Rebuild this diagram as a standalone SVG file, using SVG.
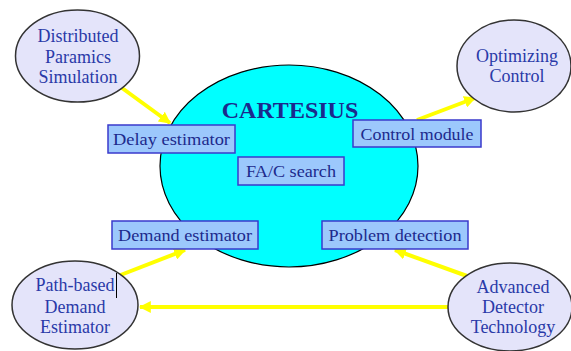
<svg xmlns="http://www.w3.org/2000/svg" width="571" height="351" viewBox="0 0 571 351">
<style>
.ext{fill:#e4e4fa;stroke:#333;stroke-width:1.5}
.box{fill:#9cc8fc;stroke:#3a3acc;stroke-width:1.5}
.t{font-size:17px;fill:#1c2a8c;text-anchor:middle}
.et{font-size:18px;fill:#2a3aa8;text-anchor:middle}
.arr{stroke:#ffff00;stroke-width:4;fill:none;marker-end:url(#ah)}
.big{font-size:24px;font-weight:bold;fill:#1c2a8c;text-anchor:middle}
</style>
<defs>
<marker id="ah" viewBox="0 0 10 10" refX="9" refY="5" markerWidth="3" markerHeight="3" orient="auto" markerUnits="strokeWidth">
<path d="M0,0 L10,5 L0,10 z" fill="#ffff00"/>
</marker>
</defs>
<rect width="571" height="351" fill="#fff"/>
<g font-family="Liberation Serif, serif">
<g id="cartesius">
<ellipse cx="289" cy="166" rx="129" ry="101" fill="#00ffff" stroke="#000" stroke-width="1.2"/>
<text class="big" x="290" y="118">CARTESIUS</text>
</g>
<g id="connectors">
<line class="arr" x1="122" y1="88" x2="170" y2="123"/>
<line class="arr" x1="417" y1="120" x2="475" y2="98"/>
<line class="arr" x1="118" y1="276" x2="185" y2="250"/>
<line class="arr" x1="467" y1="276" x2="395" y2="250"/>
<line class="arr" x1="448" y1="307" x2="140" y2="307"/>
</g>
<g id="delay">
<rect class="box" x="108" y="125" width="127" height="28"/>
<text class="t" x="171.5" y="145" textLength="117" lengthAdjust="spacingAndGlyphs">Delay estimator</text>
</g>
<g id="control">
<rect class="box" x="353" y="120" width="128" height="27"/>
<text class="t" x="417" y="139.5" textLength="113" lengthAdjust="spacingAndGlyphs">Control module</text>
</g>
<g id="fac">
<rect class="box" x="238" y="157" width="106" height="28"/>
<text class="t" x="291" y="177" textLength="90" lengthAdjust="spacingAndGlyphs">FA/C search</text>
</g>
<g id="demand">
<rect class="box" x="112" y="221" width="146" height="28"/>
<text class="t" x="185" y="241" textLength="134" lengthAdjust="spacingAndGlyphs">Demand estimator</text>
</g>
<g id="problem">
<rect class="box" x="322" y="221" width="146" height="28"/>
<text class="t" x="395" y="241" textLength="133" lengthAdjust="spacingAndGlyphs">Problem detection</text>
</g>
<g id="distributed">
<ellipse class="ext" cx="77.5" cy="56" rx="62" ry="46"/>
<text class="et" x="78" y="42">Distributed</text>
<text class="et" x="78" y="63">Paramics</text>
<text class="et" x="78" y="83">Simulation</text>
</g>
<g id="optimizing">
<ellipse class="ext" cx="514" cy="66" rx="57" ry="46"/>
<text class="et" x="517" y="62">Optimizing</text>
<text class="et" x="517" y="82">Control</text>
</g>
<g id="pathbased">
<ellipse class="ext" cx="75" cy="305" rx="63" ry="44"/>
<text class="et" x="75" y="291">Path-based</text>
<text class="et" x="75" y="313">Demand</text>
<text class="et" x="75" y="333">Estimator</text>
<line x1="116.5" y1="273" x2="116.5" y2="298" stroke="#000" stroke-width="1"/>
</g>
<g id="advanced">
<ellipse class="ext" cx="510" cy="307" rx="62" ry="44"/>
<text class="et" x="513" y="293">Advanced</text>
<text class="et" x="513" y="313">Detector</text>
<text class="et" x="513" y="333">Technology</text>
</g>
</g>
</svg>
